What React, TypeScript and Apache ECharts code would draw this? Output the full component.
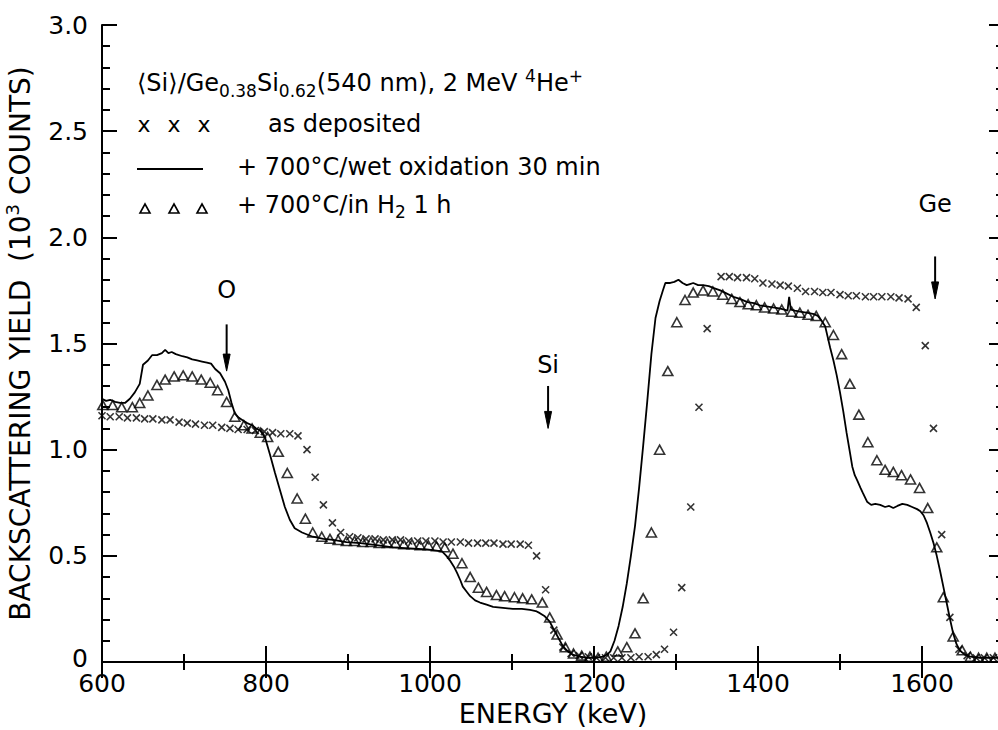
import React, { useEffect, useRef } from "react";
import * as echarts from "echarts";

const FONT = '"DejaVu Sans", sans-serif';

// as deposited (crosses)
const asDepE = [600, 610, 621, 631, 642, 652, 662, 673, 683, 694, 704, 714, 725, 735, 746, 756, 766, 777, 787, 798, 808, 818, 829, 839, 850, 860, 870, 881, 891, 902, 912, 922, 933, 943, 954, 964, 974, 985, 995, 1006, 1016, 1026, 1037, 1047, 1058, 1068, 1078, 1089, 1099, 1110, 1120, 1130, 1141, 1151, 1162, 1172, 1182, 1193, 1203, 1214, 1224, 1234, 1245, 1255, 1266, 1276, 1286, 1297, 1307, 1318, 1328, 1338, 1355, 1365, 1375, 1386, 1396, 1406, 1417, 1427, 1437, 1448, 1458, 1469, 1479, 1489, 1500, 1510, 1520, 1531, 1541, 1551, 1562, 1572, 1583, 1593, 1604, 1614, 1624, 1634, 1645, 1655, 1666, 1676, 1687, 1697];
const asDepY = [1.16, 1.155, 1.155, 1.15, 1.15, 1.145, 1.145, 1.14, 1.14, 1.13, 1.125, 1.12, 1.115, 1.115, 1.105, 1.10, 1.095, 1.095, 1.09, 1.085, 1.08, 1.075, 1.075, 1.065, 1.00, 0.87, 0.74, 0.655, 0.61, 0.59, 0.585, 0.58, 0.58, 0.575, 0.575, 0.575, 0.57, 0.57, 0.57, 0.57, 0.565, 0.565, 0.565, 0.56, 0.56, 0.56, 0.56, 0.555, 0.555, 0.555, 0.55, 0.50, 0.34, 0.15, 0.07, 0.04, 0.03, 0.025, 0.02, 0.02, 0.02, 0.02, 0.02, 0.025, 0.025, 0.035, 0.06, 0.14, 0.35, 0.73, 1.20, 1.57, 1.815, 1.815, 1.81, 1.81, 1.805, 1.785, 1.78, 1.775, 1.77, 1.76, 1.745, 1.745, 1.74, 1.74, 1.73, 1.725, 1.725, 1.72, 1.72, 1.72, 1.72, 1.715, 1.71, 1.67, 1.49, 1.10, 0.60, 0.21, 0.06, 0.03, 0.02, 0.02, 0.02, 0.02];

// + 700 C / wet oxidation 30 min (solid line)
const wetE = [600, 605, 610, 616, 622, 628, 634, 640, 646, 650, 656, 661, 667, 673, 677, 681, 685, 690, 698, 704, 710, 716, 722, 728, 733, 738, 744, 750, 754, 758, 762, 767, 771, 777, 783, 788, 793, 799, 805, 811, 817, 823, 829, 835, 844, 857, 870, 882, 898, 915, 935, 955, 975, 996, 1008, 1015, 1020, 1024, 1029, 1033, 1037, 1040, 1045, 1049, 1055, 1061, 1069, 1077, 1089, 1101, 1112, 1122, 1129, 1134, 1140, 1146, 1150, 1155, 1162, 1168, 1175, 1183, 1191, 1200, 1206, 1211, 1216, 1220, 1225, 1230, 1235, 1240, 1245, 1250, 1255, 1260, 1265, 1270, 1275, 1280, 1284, 1287, 1293, 1298, 1303, 1308, 1313, 1317, 1321, 1327, 1333, 1340, 1347, 1354, 1362, 1370, 1378, 1387, 1395, 1402, 1410, 1418, 1426, 1432, 1436, 1438, 1440, 1445, 1451, 1459, 1467, 1473, 1478, 1482, 1485, 1488, 1492, 1496, 1500, 1504, 1508, 1512, 1515, 1518, 1521, 1525, 1528, 1533, 1538, 1543, 1549, 1555, 1560, 1565, 1570, 1576, 1582, 1588, 1594, 1598, 1602, 1606, 1610, 1614, 1618, 1622, 1626, 1630, 1634, 1638, 1642, 1646, 1652, 1659, 1670, 1685, 1700];
const wetY = [1.24, 1.23, 1.235, 1.225, 1.22, 1.22, 1.24, 1.27, 1.31, 1.40, 1.42, 1.445, 1.445, 1.455, 1.47, 1.455, 1.46, 1.45, 1.44, 1.435, 1.425, 1.42, 1.415, 1.41, 1.405, 1.38, 1.36, 1.32, 1.28, 1.22, 1.17, 1.15, 1.14, 1.125, 1.115, 1.10, 1.09, 1.055, 0.975, 0.89, 0.81, 0.73, 0.67, 0.63, 0.61, 0.59, 0.58, 0.575, 0.565, 0.56, 0.55, 0.54, 0.535, 0.53, 0.525, 0.52, 0.50, 0.48, 0.45, 0.42, 0.385, 0.355, 0.33, 0.31, 0.29, 0.28, 0.27, 0.26, 0.255, 0.25, 0.25, 0.245, 0.24, 0.23, 0.215, 0.19, 0.16, 0.125, 0.075, 0.05, 0.033, 0.025, 0.02, 0.02, 0.022, 0.025, 0.035, 0.05, 0.10, 0.17, 0.26, 0.37, 0.50, 0.64, 0.82, 1.02, 1.23, 1.45, 1.62, 1.70, 1.75, 1.785, 1.785, 1.79, 1.80, 1.785, 1.775, 1.78, 1.785, 1.775, 1.775, 1.77, 1.76, 1.75, 1.735, 1.72, 1.71, 1.695, 1.69, 1.68, 1.675, 1.67, 1.665, 1.66, 1.655, 1.72, 1.66, 1.655, 1.65, 1.645, 1.64, 1.63, 1.605, 1.58, 1.53, 1.48, 1.42, 1.35, 1.27, 1.18, 1.08, 0.99, 0.92, 0.88, 0.855, 0.82, 0.795, 0.755, 0.74, 0.745, 0.74, 0.73, 0.735, 0.725, 0.735, 0.745, 0.74, 0.73, 0.72, 0.71, 0.69, 0.655, 0.61, 0.56, 0.50, 0.43, 0.355, 0.28, 0.205, 0.135, 0.085, 0.055, 0.035, 0.025, 0.02, 0.02, 0.02];

// + 700 C / in H2 1 h (triangles)
const h2E = [601, 613, 624, 637, 646, 656, 667, 677, 688, 699, 710, 721, 732, 741, 752, 762, 773, 783, 793, 802, 815, 826, 838, 848, 857, 868, 878, 888, 898, 908, 918, 928, 938, 948, 958, 968, 978, 988, 998, 1008, 1018, 1028, 1039, 1049, 1059, 1069, 1081, 1091, 1103, 1113, 1124, 1137, 1146, 1155, 1165, 1175, 1185, 1195, 1205, 1215, 1229, 1240, 1250, 1260, 1270, 1280, 1290, 1301, 1311, 1321, 1333, 1345, 1357, 1368, 1378, 1388, 1398, 1408, 1419, 1429, 1441, 1451, 1461, 1471, 1482, 1492, 1502, 1512, 1523, 1534, 1545, 1555, 1565, 1575, 1586, 1597, 1607, 1618, 1626, 1638, 1649, 1659, 1669, 1679, 1689, 1699];
const h2Y = [1.21, 1.21, 1.20, 1.20, 1.22, 1.255, 1.305, 1.33, 1.345, 1.35, 1.345, 1.33, 1.315, 1.28, 1.225, 1.155, 1.115, 1.10, 1.08, 1.06, 0.99, 0.89, 0.77, 0.675, 0.61, 0.59, 0.58, 0.575, 0.57, 0.57, 0.565, 0.565, 0.56, 0.56, 0.56, 0.555, 0.555, 0.55, 0.55, 0.545, 0.54, 0.51, 0.465, 0.40, 0.35, 0.33, 0.315, 0.31, 0.305, 0.30, 0.295, 0.28, 0.21, 0.13, 0.07, 0.04, 0.03, 0.025, 0.02, 0.025, 0.05, 0.07, 0.135, 0.30, 0.61, 1.00, 1.37, 1.60, 1.705, 1.74, 1.75, 1.745, 1.73, 1.71, 1.695, 1.685, 1.68, 1.67, 1.665, 1.66, 1.65, 1.645, 1.635, 1.63, 1.60, 1.54, 1.45, 1.31, 1.165, 1.035, 0.95, 0.905, 0.895, 0.88, 0.86, 0.82, 0.725, 0.54, 0.305, 0.12, 0.055, 0.025, 0.02, 0.02, 0.02, 0.02];

// edge markers
const markLabels = ["O", "Si", "Ge"];
const markE = [752, 1144, 1616];
const markTop = [1.59, 1.30, 1.91];
const markTip = [1.37, 1.10, 1.71];
const markTextY = [1.75, 1.40, 2.155];

const legendTexts = [
  "as deposited",
  "+ 700°C/wet oxidation 30 min",
  "+ 700°C/in H{sub|2} 1 h",
];

const pairs = (xs: number[], ys: number[]) => xs.map((x, i) => [x, ys[i]]);

const richSubSup = {
  sub: { fontSize: 17, fontFamily: FONT, fill: "#000", color: "#000", verticalAlign: "bottom", lineHeight: 17 },
  sup: { fontSize: 17, fontFamily: FONT, fill: "#000", color: "#000", verticalAlign: "top", lineHeight: 17 },
};

export default function App() {
  const ref = useRef<HTMLDivElement>(null);
  useEffect(() => {
    const chart = echarts.init(ref.current!, null, { renderer: "svg" });

    const tickCommon = {
      axisLine: { show: true, lineStyle: { color: "#000", width: 2 } },
      axisTick: { show: true, inside: true, length: 16, lineStyle: { color: "#000", width: 2 } },
      splitLine: { show: false },
    };

    const legendGraphics: any[] = [
      {
        type: "text",
        x: 137,
        y: 83,
        style: {
          text: "⟨Si⟩/Ge{sub|0.38}Si{sub|0.62}(540 nm), 2 MeV {sup|4}He{sup|+}",
          font: `24px ${FONT}`,
          fill: "#000",
          align: "left",
          verticalAlign: "middle",
          lineHeight: 32,
          rich: richSubSup,
        },
      },
      ...[144, 174, 204].map((cx) => ({
        type: "text",
        x: cx,
        y: 124,
        style: { text: "x", font: `22px ${FONT}`, fill: "#000", align: "center", verticalAlign: "middle" },
      })),
      {
        type: "line",
        shape: { x1: 137, y1: 169, x2: 203, y2: 169 },
        style: { stroke: "#000", lineWidth: 2 },
      },
      ...[145, 174, 202].map((cx) => ({
        type: "polygon",
        shape: { points: [[cx - 5, 213], [cx + 5, 213], [cx, 204]] },
        style: { fill: "none", stroke: "#000", lineWidth: 1.6 },
      })),
      ...legendTexts.map((t, i) => ({
        type: "text",
        x: i === 0 ? 268 : 237,
        y: [124, 167, 205][i],
        style: {
          text: t,
          font: `24px ${FONT}`,
          fill: "#000",
          align: "left",
          verticalAlign: "middle",
          lineHeight: 30,
          rich: richSubSup,
        },
      })),
    ];

    const minor = (n: number) => ({ show: true, splitNumber: n, length: 8, lineStyle: { color: "#000", width: 2 } });

    const option: any = {
      animation: false,
      backgroundColor: "#fff",
      grid: { left: 102, top: 25, width: 902, height: 637, containLabel: false, outerBoundsMode: "none" },
      xAxis: [
        {
          type: "value",
          position: "bottom",
          min: 600,
          max: 1700,
          interval: 200,
          ...tickCommon,
          minorTick: minor(2),
          axisLabel: {
            show: true,
            color: "#000",
            fontSize: 25,
            fontFamily: FONT,
            lineHeight: 20,
            margin: 11,
            showMaxLabel: false,
            formatter: (v: number) => String(v),
          },
          name: "ENERGY (keV)",
          nameLocation: "middle",
          nameGap: 34,
          nameTextStyle: { color: "#000", fontSize: 27, fontFamily: FONT },
        },
        {
          type: "value",
          position: "top",
          min: 600,
          max: 1700,
          interval: 200,
          ...tickCommon,
          minorTick: minor(2),
          axisLabel: { show: false },
        },
      ],
      yAxis: [
        {
          type: "value",
          position: "left",
          min: 0,
          max: 3,
          interval: 0.5,
          ...tickCommon,
          axisTick: { show: true, inside: true, length: 15, lineStyle: { color: "#000", width: 2 } },
          minorTick: minor(5),
          axisLabel: {
            show: true,
            color: "#000",
            fontSize: 25,
            fontFamily: FONT,
            lineHeight: 18,
            margin: 14,
            formatter: (v: number) => (v === 0 ? "{z|0}" : v.toFixed(1)),
            rich: {
              z: { fontSize: 25, fontFamily: FONT, color: "#000", lineHeight: 18, padding: [0, 0, 7, 0] },
            },
          },
          name: "BACKSCATTERING YIELD  (10{sup|3} COUNTS)",
          nameLocation: "middle",
          nameRotate: 90,
          nameGap: 54,
          nameTextStyle: {
            color: "#000",
            fontSize: 28,
            fontFamily: FONT,
            lineHeight: 34,
            rich: {
              sup: { fontSize: 18, fontFamily: FONT, color: "#000", verticalAlign: "top", lineHeight: 18 },
            },
          },
        },
        {
          type: "value",
          position: "right",
          min: 0,
          max: 3,
          interval: 0.5,
          ...tickCommon,
          axisTick: { show: true, inside: true, length: 15, lineStyle: { color: "#000", width: 2 } },
          minorTick: minor(5),
          axisLabel: { show: false },
        },
      ],
      series: [
        {
          name: "as deposited",
          type: "scatter",
          data: pairs(asDepE, asDepY),
          symbol: "path://M0,0L10,10M10,0L0,10",
          symbolSize: 7,
          itemStyle: { color: "#000", borderColor: "#000", borderWidth: 1.6 },
          z: 3,
        },
        {
          name: "+ 700°C/wet oxidation 30 min",
          type: "line",
          data: pairs(wetE, wetY),
          symbol: "none",
          lineStyle: { color: "#000", width: 1.8 },
          z: 2,
        },
        {
          name: "+ 700°C/in H2 1 h",
          type: "scatter",
          data: pairs(h2E, h2Y),
          symbol: "triangle",
          symbolSize: [10, 9],
          itemStyle: { color: "rgba(255,255,255,0)", borderColor: "#000", borderWidth: 1.6 },
          z: 4,
        },
      ],
      graphic: { elements: legendGraphics },
    };

    chart.setOption(option);

    const markGraphics: any[] = [];
    markLabels.forEach((lab, i) => {
      const top = chart.convertToPixel({ xAxisIndex: 0, yAxisIndex: 0 }, [markE[i], markTop[i]]) as number[];
      const tip = chart.convertToPixel({ xAxisIndex: 0, yAxisIndex: 0 }, [markE[i], markTip[i]]) as number[];
      const txt = chart.convertToPixel({ xAxisIndex: 0, yAxisIndex: 0 }, [markE[i], markTextY[i]]) as number[];
      markGraphics.push({
        type: "line",
        shape: { x1: top[0], y1: top[1], x2: tip[0], y2: tip[1] - 10 },
        style: { stroke: "#000", lineWidth: 2 },
      });
      markGraphics.push({
        type: "polygon",
        shape: { points: [[tip[0] - 3.5, tip[1] - 17], [tip[0] + 3.5, tip[1] - 17], [tip[0], tip[1]]] },
        style: { fill: "#000", stroke: "#000", lineWidth: 1 },
      });
      markGraphics.push({
        type: "text",
        x: txt[0],
        y: txt[1],
        style: { text: lab, font: `24px ${FONT}`, fill: "#000", align: "center", verticalAlign: "middle" },
      });
    });

    chart.setOption({ graphic: { elements: [...legendGraphics, ...markGraphics] } });

    return () => chart.dispose();
  }, []);
  return <div ref={ref} style={{ position: "absolute", left: 0, top: 0, width: 998, height: 730 }} />;
}
